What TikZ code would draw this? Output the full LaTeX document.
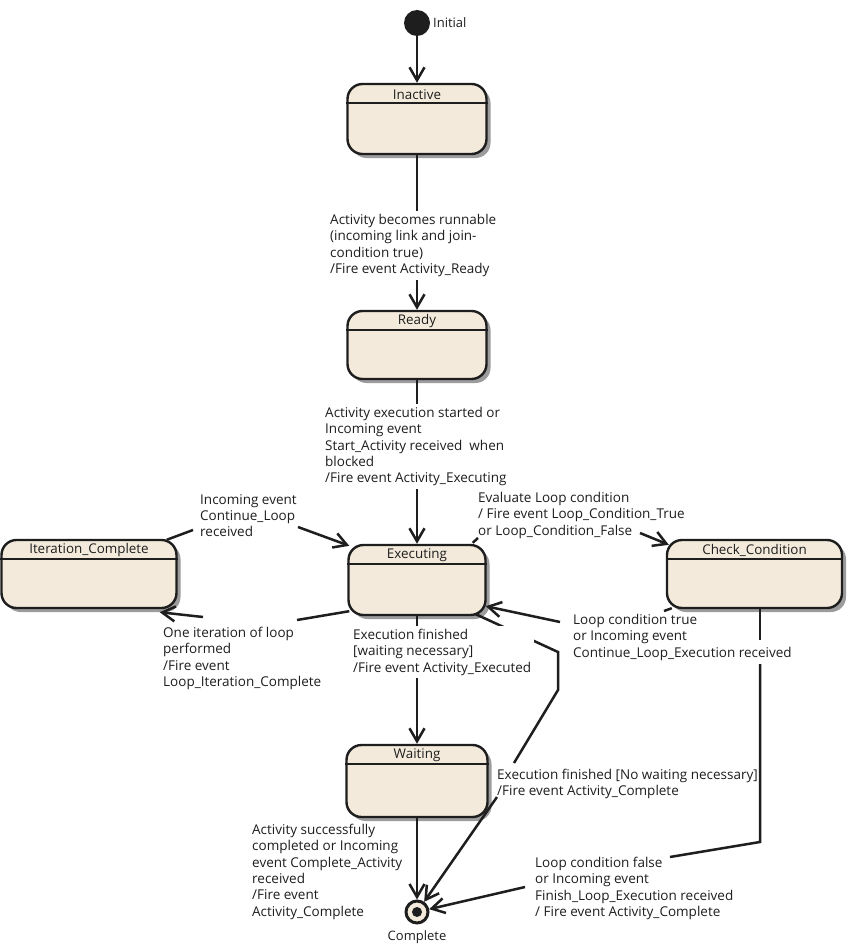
\documentclass[tikz,border=0pt]{standalone}
\usepackage{fontspec}
\setmainfont{Open Sans}
\usetikzlibrary{arrows.meta,shadows,calc}
\definecolor{cream}{HTML}{F3EADB}
\definecolor{ink}{HTML}{1E1E1E}
\definecolor{shade}{HTML}{9C9C9C}
\newcommand\mkstate[6]{%
  \node[statebox, minimum width=#4pt, minimum height=#5pt] (#1) at (#2,#3) {};
  \node[sname] (#1N) at ([yshift=-11.5pt]#1.north) {#6};
  \draw[hdr] ([yshift=-20pt]#1.north west) -- ([yshift=-20pt]#1.north east);
}
\begin{document}
\begin{tikzpicture}[x=1pt,y=-1pt,
  statebox/.style={rectangle, rounded corners=15pt, draw=ink, line width=2.4pt, fill=cream,
     drop shadow={shadow xshift=4pt, shadow yshift=-4pt, fill=shade, opacity=1}},
  sname/.style={font=\fontsize{13.4}{15}\selectfont, text=ink, inner sep=0pt},
  hdr/.style={draw=ink, line width=1.5pt},
  ln/.style={draw=ink, line width=2.5pt},
  arr/.style={ln, -{Straight Barb[length=13pt, width=15pt, line width=2.5pt]}},
  lbl/.style={font=\fontsize{13.5}{16.3}\selectfont, text=ink, align=left, inner sep=3pt, anchor=north west},
  lblw/.style={lbl, fill=white},
  capnote/.style={font=\fontsize{13}{15}\selectfont, text=ink, inner sep=0pt}
]
\fill[white] (0,0) rectangle (850,947);
\useasboundingbox (0,0) rectangle (850,947);

% states
\mkstate{inact}{417}{119}{139}{70}{Inactive}
\mkstate{ready}{417}{345}{139}{68}{Ready}
\mkstate{ex}{417}{580}{137}{70}{Executing}
\mkstate{wait}{417}{781}{141}{72}{Waiting}
\mkstate{ic}{89}{574}{175}{68}{Iteration\_Complete}
\mkstate{cc}{754.5}{574}{175}{68}{Check\_Condition}

% initial and final
\node[circle, fill=ink, minimum size=26pt, inner sep=0pt] (init) at (417,23) {};
\node[capnote, anchor=west] (initL) at (433,23) {Initial};
\node[circle, draw=ink, line width=3pt, fill=cream, minimum size=22pt, inner sep=0pt] (fin) at (417,912) {};
\node[circle, fill=ink, minimum size=10pt, inner sep=0pt] (finC) at (fin.center) {};
\node[capnote] (finL) at (417,937) {Complete};

% waypoints
\coordinate (g4a) at (193,530);
\coordinate (g4b) at (298,527);
\coordinate (g5a) at (478,538);
\coordinate (g5b) at (640,533);
\coordinate (g6a) at (297,620);
\coordinate (g6b) at (203,617);
\coordinate (g7a) at (664,611);
\coordinate (g7b) at (560,622);
\coordinate (g8a) at (760,640);
\coordinate (g8b) at (760,664);
\coordinate (g8c) at (760,842);
\coordinate (g8d) at (670,857);
\coordinate (g8e) at (525,887);
\coordinate (g10a) at (558,652);
\coordinate (g10b) at (558,690);
\coordinate (g10c) at (514,763);
\coordinate (g10d) at (497,797);

% vertical connectors (covered by white labels)
\draw[arr] (init) -- (inact.north);
\draw[arr] (inact.south) -- (ready.north);
\draw[arr] (ready.south) -- (ex.north);
\draw[arr] (ex.south) -- (wait.north);
\draw[arr] (wait.south) -- (fin);

% Iteration_Complete -> Executing
\draw[ln] ([shift={(-11,1)}]ic.north east) -- (g4a);
\draw[arr] (g4b) -- ([shift={(2,2)}]ex.north west);
% Executing -> Check_Condition
\draw[ln] ([shift={(-14,-1)}]ex.north east) -- (g5a);
\draw[arr] (g5b) -- ([shift={(3,6)}]cc.north west);
% Executing -> Iteration_Complete
\draw[ln] ([shift={(2,-5)}]ex.south west) -- (g6a);
\draw[arr] (g6b) -- ([shift={(-18,3)}]ic.south east);
% Check_Condition -> Executing
\draw[ln] ([shift={(6,-1)}]cc.south west) -- (g7a);
\draw[arr] (g7b) -- ([shift={(-1,-10)}]ex.south east);
% Check_Condition -> Complete
\draw[ln] ([xshift=5.5pt]cc.south) -- (g8a);
\draw[ln] (g8b) -- (g8c) -- (g8d);
\draw[arr] (g8e) -- (fin);
% Executing -> Complete (no waiting)
\draw[ln] ([shift={(-11,-2)}]ex.south east) -- (g10a) -- (g10b) -- (g10c);
\draw[arr] (g10d) -- (fin);

% labels
\node[lblw] (L2) at (327,211) {Activity becomes runnable\\(incoming link and join-\\condition true)\\/Fire event Activity\_Ready};
\node[lblw] (L3) at (322,404) {Activity execution started or\\Incoming event\\Start\_Activity received~ when\\blocked\\/Fire event Activity\_Executing};
\node[lbl] (L4) at (197,491) {Incoming event\\Continue\_Loop\\received};
\node[lbl] (L5) at (475,489) {Evaluate Loop condition\\/ Fire event Loop\_Condition\_True\\or Loop\_Condition\_False};
\node[lbl] (L6) at (160,624) {One iteration of loop\\performed\\/Fire event\\Loop\_Iteration\_Complete};
\node[lbl] (L7) at (570,611) {Loop condition true\\or Incoming event\\Continue\_Loop\_Execution received};
\node[lblw] (L9) at (350,626) {Execution finished\\{[}waiting necessary{]}\\/Fire event Activity\_Executed};
\node[lbl] (L10) at (494,766) {Execution finished {[}No waiting necessary{]}\\/Fire event Activity\_Complete};
\node[lbl] (L8) at (532,854) {Loop condition false\\or Incoming event\\Finish\_Loop\_Execution received\\/ Fire event Activity\_Complete};
\node[lbl] (L11) at (249,821) {Activity successfully\\completed or Incoming\\event Complete\_Activity\\received\\/Fire event\\Activity\_Complete};
\end{tikzpicture}
\end{document}
